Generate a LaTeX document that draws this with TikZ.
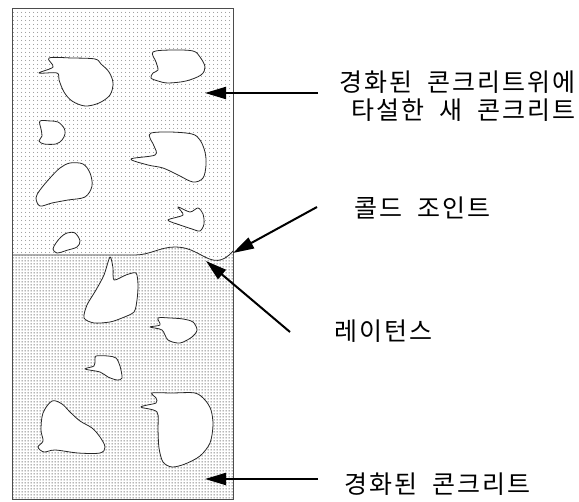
\documentclass[tikz,border=0pt]{standalone}
\usepackage{fontspec}
\newfontfamily\kr[LetterSpace=8,WordSpace=2]{Noto Sans CJK KR}
\usetikzlibrary{arrows.meta,patterns}

% dot screens for the two concrete layers
\pgfdeclarepatternformonly{sparsedots}{\pgfqpoint{0pt}{0pt}}{\pgfqpoint{4pt}{4pt}}{\pgfqpoint{4pt}{4pt}}%
  {\pgfpathcircle{\pgfqpoint{2pt}{2pt}}{0.6pt}\pgfusepath{fill}}
\pgfdeclarepatternformonly{densedots}{\pgfqpoint{0pt}{0pt}}{\pgfqpoint{3pt}{3pt}}{\pgfqpoint{3pt}{3pt}}%
  {\pgfpathcircle{\pgfqpoint{1.5pt}{1.5pt}}{0.75pt}\pgfusepath{fill}}

\tikzset{
  newlayer/.style={pattern=sparsedots, pattern color=black!50},
  oldlayer/.style={pattern=densedots, pattern color=black!80},
  agg/.style={draw=black!85, fill=white, line width=0.8pt, line join=round},
  pointer/.style={line width=2pt, -{Triangle[length=21pt,width=12pt]}},
  label/.style={font=\kr\fontsize{25}{30}\selectfont, inner sep=0pt},
}

\begin{document}
\begin{tikzpicture}[x=1pt, y=-1pt]
\useasboundingbox (0,0) rectangle (579,502);

% freshly placed concrete (upper layer)
\fill[newlayer] (12,8) -- (233,8) -- (233,251)
  .. controls (222,264) and (213,261) .. (205,257)
  .. controls (195,252) and (188,247) .. (175,247)
  .. controls (160,247) and (150,255) .. (135,255) -- (12,255) -- cycle;
% hardened concrete (lower layer)
\fill[oldlayer] (12,255) -- (135,255)
  .. controls (150,255) and (160,247) .. (175,247)
  .. controls (188,247) and (195,252) .. (205,257)
  .. controls (213,261) and (222,264) .. (233,251)
  -- (233,499) -- (12,499) -- cycle;
% joint line
\draw[black!85, line width=0.8pt] (12,255) -- (135,255)
  .. controls (150,255) and (160,247) .. (175,247)
  .. controls (188,247) and (195,252) .. (205,257)
  .. controls (213,261) and (222,264) .. (233,251);

% aggregates in the upper layer
\draw[agg] plot[smooth cycle, tension=0.55] coordinates {(49,58) (72,58) (95,59) (101,64) (109,72) (113,83) (110,95) (99,103) (85,106) (72,101) (64,92) (59,80) (57,73) (39,73) (53,67)};
\draw[agg] plot[smooth cycle, tension=0.55] coordinates {(153,52) (172,50) (193,51) (200,57) (205,67) (201,75) (186,81) (168,83) (158,81) (151,78) (153,73) (158,70) (156,62)};
\draw[agg] plot[smooth cycle, tension=0.55] coordinates {(40,121) (50,121) (58,122) (64,128) (65,134) (62,140) (56,144) (44,144) (39,141) (42,136) (41,129)};
\draw[agg] plot[smooth cycle, tension=0.55] coordinates {(70,163) (83,164) (90,173) (92,186) (85,197) (68,200) (52,203) (40,206) (36,198) (40,190) (50,178) (60,168)};
\draw[agg] plot[smooth cycle, tension=0.55] coordinates {(67,233) (75,233) (80,241) (77,247) (68,250) (57,253) (53,249) (56,243) (61,237)};
\draw[agg] plot[smooth cycle, tension=0.55] coordinates {(151,133) (170,132) (192,134) (200,140) (205,152) (206,165) (203,178) (193,182) (178,175) (163,168) (148,165) (131,159) (155,155) (154,146) (150,138)};
\draw[agg] plot[smooth cycle, tension=0.5] coordinates {(178,207) (183,215) (168,220) (180,225) (192,229) (200,231) (204,224) (203,214) (198,208) (190,212)};

% aggregates in the lower layer
\draw[agg] plot[smooth cycle, tension=0.45] coordinates {(110,257) (113,268) (114,280) (126,275) (136,273) (138,285) (137,300) (134,312) (122,318) (110,322) (94,323) (84,318) (87,305) (96,290) (104,275)};
\draw[agg] plot[smooth cycle, tension=0.5] coordinates {(158,318) (170,318) (183,319) (193,322) (197,330) (192,337) (180,343) (168,340) (162,330) (150,327) (160,325)};
\draw[agg] plot[smooth cycle, tension=0.5] coordinates {(96,356) (108,356) (116,358) (120,366) (122,378) (117,380) (108,377) (100,372) (85,369) (94,366) (95,360)};
\draw[agg] plot[smooth cycle, tension=0.55] coordinates {(52,401) (62,404) (70,412) (80,421) (92,428) (100,437) (105,447) (100,453) (78,453) (55,450) (44,452) (38,447) (43,441) (41,430) (43,413)};
\draw[agg] plot[smooth cycle, tension=0.5] coordinates {(152,393) (172,393) (195,393) (205,400) (211,410) (213,425) (210,443) (200,456) (185,464) (172,467) (163,462) (159,448) (158,430) (157,412) (141,407) (156,403) (156,398)};

% outline of the section
\draw[black!70, line width=0.9pt] (12,8) rectangle (233,499);

% labels
\node[label, anchor=base east] (newtop) at (576,92) {경화된 콘크리트위에};
\node[label, anchor=base east] (newbot) at (576,120) {타설한 새 콘크리트};
\node[label, anchor=base west] (joint) at (354,218) {콜드 조인트};
\node[label, anchor=base west] (laitance) at (334,341) {레이턴스};
\node[label, anchor=base west] (old) at (344,494) {경화된 콘크리트};

% pointer ends
\coordinate (newtail) at (318,93);
\coordinate (newtip) at (205,93);
\coordinate (jointtail) at (317,207);
\coordinate (jointtip) at (233,253);
\coordinate (laittail) at (290,332);
\coordinate (laittip) at (206,261);
\coordinate (oldtail) at (318,479);
\coordinate (oldtip) at (205,479);

\draw[pointer] (newtail) -- (newtip);
\draw[pointer] (jointtail) -- (jointtip);
\draw[pointer] (laittail) -- (laittip);
\draw[pointer] (oldtail) -- (oldtip);
\end{tikzpicture}
\end{document}
